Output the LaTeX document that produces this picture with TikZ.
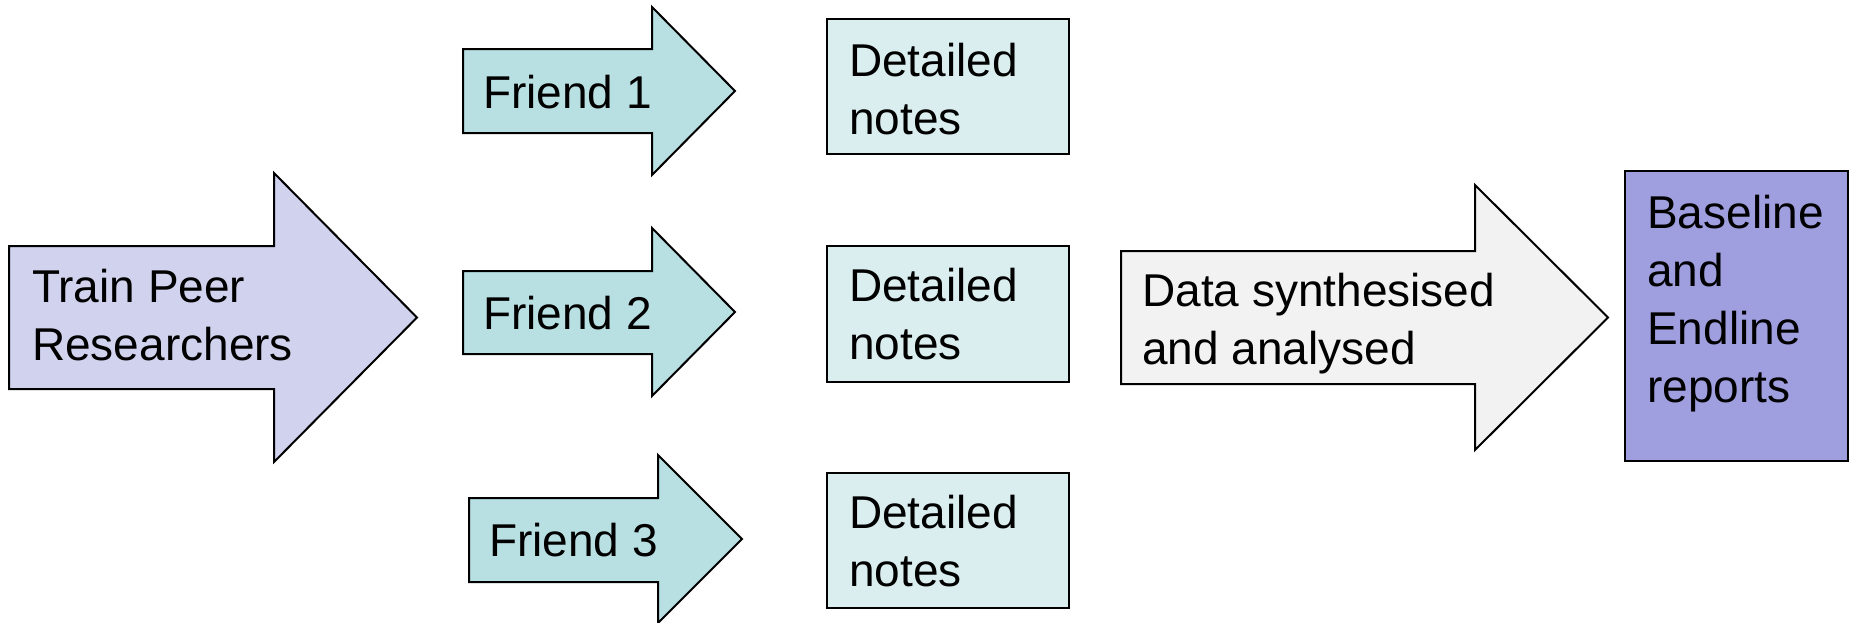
\documentclass[tikz,border=0pt]{standalone}
\usepackage{fontspec}
\setmainfont{Liberation Sans}
\definecolor{trainfill}{HTML}{D0D2EE}
\definecolor{friendfill}{HTML}{B8DFE2}
\definecolor{notesfill}{HTML}{DAEDEF}
\definecolor{datafill}{HTML}{F2F2F2}
\definecolor{reportfill}{HTML}{9F9EDE}
\tikzset{
  outline/.style={draw=black, line width=2pt, line join=miter},
  % anchored at the baseline of the last line of the label
  label text/.style={anchor=base west, inner sep=0pt, align=left,
    font=\fontsize{46}{58}\selectfont, text=black},
}
% block arrow: fill, left x, shaft top, shaft bottom, head back x, head top, head bottom, tip x
\newcommand\blockarrow[8]{%
  \path[outline, fill=#1] (#2,#3) -- (#5,#3) -- (#5,#6) -- (#8,{(#6+#7)/2})
    -- (#5,#7) -- (#5,#4) -- (#2,#4) -- cycle;}
\begin{document}
\begin{tikzpicture}[x=1pt, y=-1pt]
\useasboundingbox (0,0) rectangle (1849,622);

% training arrow
\blockarrow{trainfill}{9}{246}{389}{274}{173}{462}{417}
\node[label text] (train) at (32,360) {Train Peer\\Researchers};

% friend arrows
\blockarrow{friendfill}{463}{49}{133}{652}{7}{175}{735}
\node[label text] (friend1) at (483,108) {Friend 1};
\blockarrow{friendfill}{463}{271}{354}{652}{228}{396}{735}
\node[label text] (friend2) at (483,329) {Friend 2};
\blockarrow{friendfill}{469}{498}{582}{658}{455}{623}{742}
\node[label text] (friend3) at (489,556) {Friend 3};

% detailed notes boxes
\path[outline, fill=notesfill] (827,19) rectangle (1069,154);
\node[label text] (notes1) at (849,134) {Detailed\\notes};
\path[outline, fill=notesfill] (827,246) rectangle (1069,382);
\node[label text] (notes2) at (849,359) {Detailed\\notes};
\path[outline, fill=notesfill] (827,473) rectangle (1069,608);
\node[label text] (notes3) at (849,586) {Detailed\\notes};

% synthesis arrow
\blockarrow{datafill}{1121}{251}{384}{1475}{185}{450}{1608}
\node[label text] (data) at (1142,364) {Data synthesised\\and analysed};

% reports box
\path[outline, fill=reportfill] (1625,171) rectangle (1848,461);
\node[label text] (reports) at (1647,402) {Baseline\\and\\Endline\\reports};
\end{tikzpicture}
\end{document}
